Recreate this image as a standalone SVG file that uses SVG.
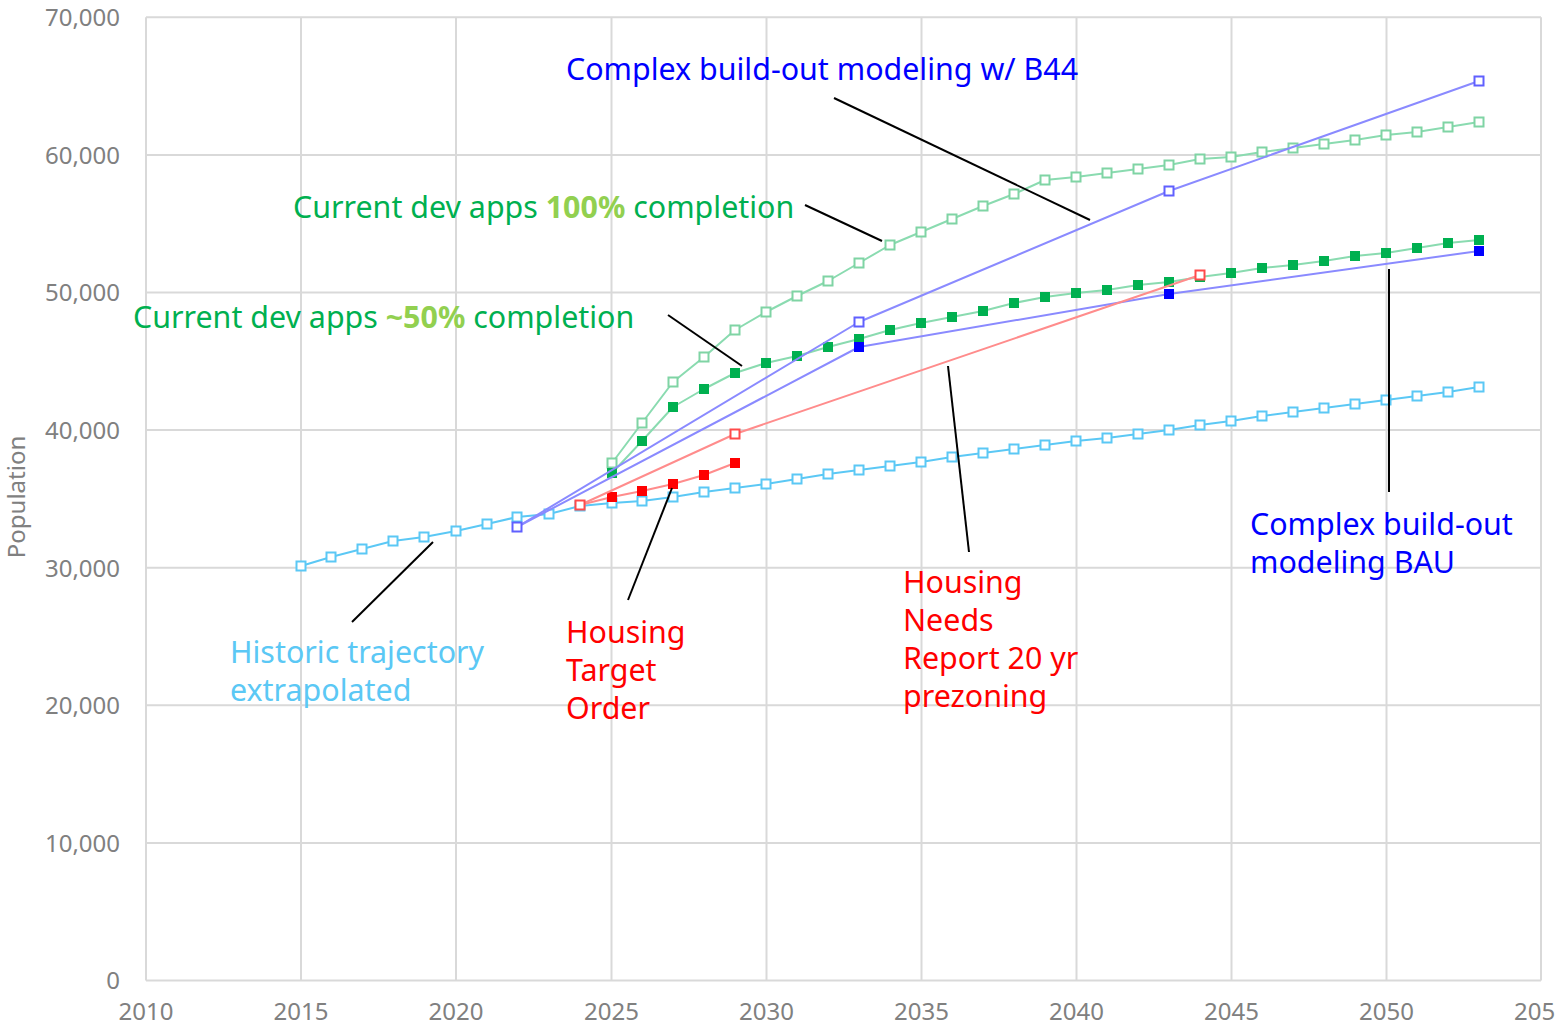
<svg xmlns="http://www.w3.org/2000/svg" xmlns:xlink="http://www.w3.org/1999/xlink" width="1557" height="1027" viewBox="0 0 1557 1027">
  <style>
    .grid { stroke: #d9d9d9; stroke-width: 2; fill: none; }
    .tick { font-family: "Noto Sans", "Open Sans", sans-serif; font-size: 24px; fill: #808080; }
    .ylab { text-anchor: end; }
    .xlab { text-anchor: middle; }
    .note { font-family: "Noto Sans", "Open Sans", sans-serif; font-size: 30.4px; }
    .leader { stroke: #000; stroke-width: 2; fill: none; }
    .ln { fill: none; stroke-width: 2; stroke-linejoin: round; }
    .hist { stroke: #5bc8f5; }
    .grn { stroke: #8adbb0; }
    .blu { stroke: #8a8aff; }
    .red { stroke: #ff8c8c; }
    .m-hist { fill: #fff; stroke: #5bc8f5; stroke-width: 2; }
    .m-grnh { fill: #fff; stroke: #7fd4a4; stroke-width: 2; }
    .m-grnf { fill: #00b050; stroke: #00b050; stroke-width: 1; }
    .m-bluh { fill: #fff; stroke: #6060ff; stroke-width: 2; }
    .m-bluf { fill: #0000ff; stroke: #0000ff; stroke-width: 1; }
    .m-redh { fill: #fff; stroke: #ff4a4a; stroke-width: 2; }
    .m-redf { fill: #ff0000; stroke: #ff0000; stroke-width: 1; }
  </style>
  <defs>
    <rect id="sq" x="-4.5" y="-4.5" width="9" height="9"/>
  </defs>

  <rect width="1557" height="1027" fill="#fff"/>

  <!-- plot grid -->
  <g id="grid">
    <path class="grid" d="M146,17.3 H1541 M146,154.9 H1541 M146,292.5 H1541 M146,430.1 H1541 M146,567.7 H1541 M146,705.3 H1541 M146,842.9 H1541 M146,980.5 H1541"/>
    <path class="grid" d="M146,17.3 V980.5 M301,17.3 V980.5 M456,17.3 V980.5 M611.5,17.3 V980.5 M766.5,17.3 V980.5 M921.5,17.3 V980.5 M1076.5,17.3 V980.5 M1231.5,17.3 V980.5 M1386.5,17.3 V980.5 M1541,17.3 V980.5"/>
  </g>

  <!-- axis tick labels -->
  <g id="y-axis" class="tick ylab">
    <text x="120" y="26">70,000</text>
    <text x="120" y="164">60,000</text>
    <text x="120" y="301">50,000</text>
    <text x="120" y="439">40,000</text>
    <text x="120" y="577">30,000</text>
    <text x="120" y="714">20,000</text>
    <text x="120" y="852">10,000</text>
    <text x="120" y="989">0</text>
  </g>
  <g id="x-axis" class="tick xlab">
    <text x="146" y="1020">2010</text>
    <text x="301" y="1020">2015</text>
    <text x="456" y="1020">2020</text>
    <text x="611.5" y="1020">2025</text>
    <text x="766.5" y="1020">2030</text>
    <text x="921.5" y="1020">2035</text>
    <text x="1076.5" y="1020">2040</text>
    <text x="1231.5" y="1020">2045</text>
    <text x="1386.5" y="1020">2050</text>
    <text x="1514" y="1020" text-anchor="start">205</text>
  </g>
  <text id="y-title" class="tick" font-size="22" text-anchor="middle" transform="translate(25,497) rotate(-90)">Population</text>

  <!-- series: historic trajectory -->
  <g id="series-historic">
    <polyline class="ln hist" points="301,566 331,557 362,549 393,541 424,537 456,531 487,524 517,517 549,514 580,506 612,503 642,501 673,497 704,492 735,488 766,484 797,479 828,474 859,470 890,466 921,462 952,457 983,453 1014,449 1045,445 1076,441 1107,438 1138,434 1169,430 1200,425 1231,421 1262,416 1293,412 1324,408 1355,404 1386,400 1417,396 1448,392 1479,387"/>
    <g class="m-hist">
      <use href="#sq" x="301" y="566"/><use href="#sq" x="331" y="557"/><use href="#sq" x="362" y="549"/><use href="#sq" x="393" y="541"/><use href="#sq" x="424" y="537"/><use href="#sq" x="456" y="531"/><use href="#sq" x="487" y="524"/><use href="#sq" x="517" y="517"/><use href="#sq" x="549" y="514"/><use href="#sq" x="580" y="506"/><use href="#sq" x="612" y="503"/><use href="#sq" x="642" y="501"/><use href="#sq" x="673" y="497"/><use href="#sq" x="704" y="492"/><use href="#sq" x="735" y="488"/><use href="#sq" x="766" y="484"/><use href="#sq" x="797" y="479"/><use href="#sq" x="828" y="474"/><use href="#sq" x="859" y="470"/><use href="#sq" x="890" y="466"/><use href="#sq" x="921" y="462"/><use href="#sq" x="952" y="457"/><use href="#sq" x="983" y="453"/><use href="#sq" x="1014" y="449"/><use href="#sq" x="1045" y="445"/><use href="#sq" x="1076" y="441"/><use href="#sq" x="1107" y="438"/><use href="#sq" x="1138" y="434"/><use href="#sq" x="1169" y="430"/><use href="#sq" x="1200" y="425"/><use href="#sq" x="1231" y="421"/><use href="#sq" x="1262" y="416"/><use href="#sq" x="1293" y="412"/><use href="#sq" x="1324" y="408"/><use href="#sq" x="1355" y="404"/><use href="#sq" x="1386" y="400"/><use href="#sq" x="1417" y="396"/><use href="#sq" x="1448" y="392"/><use href="#sq" x="1479" y="387"/>
    </g>
  </g>

  <!-- series: dev apps 100% -->
  <g id="series-dev100">
    <polyline class="ln grn" points="612,463 642,423 673,382 704,357 735,330 766,312 797,296 828,281 859,263 890,245 921,232 952,219 983,206 1014,194 1045,180 1076,177 1107,173 1138,169 1169,165 1200,159 1231,157 1262,152 1293,148 1324,144 1355,140 1386,135 1417,132 1448,127 1479,122"/>
    <g class="m-grnh">
      <use href="#sq" x="612" y="463"/><use href="#sq" x="642" y="423"/><use href="#sq" x="673" y="382"/><use href="#sq" x="704" y="357"/><use href="#sq" x="735" y="330"/><use href="#sq" x="766" y="312"/><use href="#sq" x="797" y="296"/><use href="#sq" x="828" y="281"/><use href="#sq" x="859" y="263"/><use href="#sq" x="890" y="245"/><use href="#sq" x="921" y="232"/><use href="#sq" x="952" y="219"/><use href="#sq" x="983" y="206"/><use href="#sq" x="1014" y="194"/><use href="#sq" x="1045" y="180"/><use href="#sq" x="1076" y="177"/><use href="#sq" x="1107" y="173"/><use href="#sq" x="1138" y="169"/><use href="#sq" x="1169" y="165"/><use href="#sq" x="1200" y="159"/><use href="#sq" x="1231" y="157"/><use href="#sq" x="1262" y="152"/><use href="#sq" x="1293" y="148"/><use href="#sq" x="1324" y="144"/><use href="#sq" x="1355" y="140"/><use href="#sq" x="1386" y="135"/><use href="#sq" x="1417" y="132"/><use href="#sq" x="1448" y="127"/><use href="#sq" x="1479" y="122"/>
    </g>
  </g>

  <!-- series: dev apps ~50% -->
  <g id="series-dev50">
    <polyline class="ln grn" points="612,473 642,441 673,407 704,389 735,373 766,363 797,356 828,347 859,339 890,330 921,323 952,317 983,311 1014,303 1045,297 1076,293 1107,290 1138,285 1169,282 1200,277 1231,273 1262,268 1293,265 1324,261 1355,256 1386,253 1417,248 1448,243 1479,240"/>
    <g class="m-grnf">
      <use href="#sq" x="612" y="473"/><use href="#sq" x="642" y="441"/><use href="#sq" x="673" y="407"/><use href="#sq" x="704" y="389"/><use href="#sq" x="735" y="373"/><use href="#sq" x="766" y="363"/><use href="#sq" x="797" y="356"/><use href="#sq" x="828" y="347"/><use href="#sq" x="859" y="339"/><use href="#sq" x="890" y="330"/><use href="#sq" x="921" y="323"/><use href="#sq" x="952" y="317"/><use href="#sq" x="983" y="311"/><use href="#sq" x="1014" y="303"/><use href="#sq" x="1045" y="297"/><use href="#sq" x="1076" y="293"/><use href="#sq" x="1107" y="290"/><use href="#sq" x="1138" y="285"/><use href="#sq" x="1169" y="282"/><use href="#sq" x="1200" y="277"/><use href="#sq" x="1231" y="273"/><use href="#sq" x="1262" y="268"/><use href="#sq" x="1293" y="265"/><use href="#sq" x="1324" y="261"/><use href="#sq" x="1355" y="256"/><use href="#sq" x="1386" y="253"/><use href="#sq" x="1417" y="248"/><use href="#sq" x="1448" y="243"/><use href="#sq" x="1479" y="240"/>
    </g>
  </g>

  <!-- series: build-out modeling BAU -->
  <g id="series-bau">
    <polyline class="ln blu" points="517,527 859,347 1169,294 1479,251"/>
    <g class="m-bluf">
      <use href="#sq" x="859" y="347"/><use href="#sq" x="1169" y="294"/><use href="#sq" x="1479" y="251"/>
    </g>
  </g>

  <!-- series: build-out modeling w/ B44 -->
  <g id="series-b44">
    <polyline class="ln blu" points="517,527 859,322 1169,191 1479,81"/>
    <g class="m-bluh">
      <use href="#sq" x="517" y="527"/><use href="#sq" x="859" y="322"/><use href="#sq" x="1169" y="191"/><use href="#sq" x="1479" y="81"/>
    </g>
  </g>

  <!-- series: housing target order -->
  <g id="series-target">
    <polyline class="ln red" points="580,505 612,497 642,491 673,484 704,475 735,463"/>
    <g class="m-redf">
      <use href="#sq" x="612" y="497"/><use href="#sq" x="642" y="491"/><use href="#sq" x="673" y="484"/><use href="#sq" x="704" y="475"/><use href="#sq" x="735" y="463"/>
    </g>
  </g>

  <!-- series: housing needs report -->
  <g id="series-needs">
    <polyline class="ln red" points="580,505 735,434 1200,275"/>
    <g class="m-redh">
      <use href="#sq" x="580" y="505"/><use href="#sq" x="735" y="434"/><use href="#sq" x="1200" y="275"/>
    </g>
  </g>

  <!-- callout leaders -->
  <g id="leaders" class="leader">
    <line x1="834" y1="98" x2="1090" y2="220"/>
    <line x1="805" y1="205" x2="882" y2="241"/>
    <line x1="668" y1="315" x2="742" y2="366"/>
    <line x1="352" y1="622" x2="433" y2="542"/>
    <line x1="628" y1="600" x2="672" y2="488"/>
    <line x1="969" y1="552" x2="948" y2="366"/>
    <line x1="1389" y1="269" x2="1389" y2="492"/>
  </g>

  <!-- callout labels -->
  <g id="label-b44" class="note" fill="#0000ff">
    <text x="566" y="80">Complex build-out modeling w/ B44</text>
  </g>
  <g id="label-dev100" class="note" fill="#00b050">
    <text x="293" y="218">Current dev apps <tspan font-weight="bold" fill="#92d050">100%</tspan> completion</text>
  </g>
  <g id="label-dev50" class="note" fill="#00b050">
    <text x="133" y="328">Current dev apps <tspan font-weight="bold" fill="#92d050">~50%</tspan> completion</text>
  </g>
  <g id="label-historic" class="note" fill="#5bc8f5">
    <text x="230" y="663">Historic trajectory</text>
    <text x="230" y="701">extrapolated</text>
  </g>
  <g id="label-target" class="note" fill="#ff0000">
    <text x="566" y="643">Housing</text>
    <text x="566" y="681">Target</text>
    <text x="566" y="719">Order</text>
  </g>
  <g id="label-needs" class="note" fill="#ff0000">
    <text x="903" y="593">Housing</text>
    <text x="903" y="631">Needs</text>
    <text x="903" y="669">Report 20 yr</text>
    <text x="903" y="707">prezoning</text>
  </g>
  <g id="label-bau" class="note" fill="#0000ff">
    <text x="1250" y="535">Complex build-out</text>
    <text x="1250" y="573">modeling BAU</text>
  </g>
</svg>
